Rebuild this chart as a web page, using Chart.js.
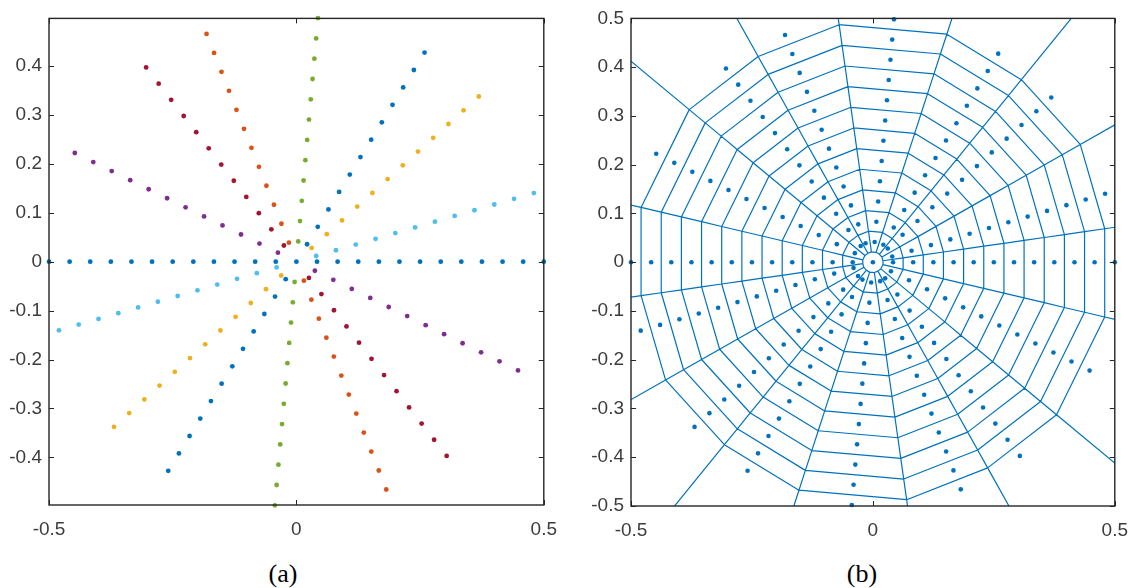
<!DOCTYPE html>
<html>
<head>
<meta charset="utf-8">
<script src="https://cdn.jsdelivr.net/npm/chart.js@4/dist/chart.umd.min.js"></script>
<style>
  body { margin: 0; background: #fff; }
  .wrap { position: absolute; top: 0; }
  .cap { position: absolute; top: 561px; height: 26px; line-height: 26px; width: 60px; text-align: center;
         font-family: "Liberation Serif", serif; font-size: 26px; color: #000; }
</style>
</head>
<body>
<div class="wrap" style="left:0px;width:570px;height:545px"><canvas id="chartA"></canvas></div>
<div class="wrap" style="left:580px;width:561px;height:546px"><canvas id="chartB"></canvas></div>
<div class="cap" style="left:253px">(a)</div>
<div class="cap" style="left:832px">(b)</div>
<script>
// lines through the origin, angle in degrees
const lineAngles = [0, 16.3, 42.5, 58.8, 85.0, 111.3, 127.4, 153.6];
// distance of the points from the origin along each line (both sides)
const stepRadii = [0.0417, 0.0833, 0.125, 0.1667, 0.2083, 0.25, 0.2917, 0.3333, 0.375, 0.4167, 0.4583, 0.5];
const lineColors = ['#0072BD', '#4DBEEE', '#EDB120', '#0072BD', '#77AC30', '#D95319', '#A2142F', '#7E2F8E'];

const xTicks = [-0.5, 0, 0.5];
const yTicksA = [-0.4, -0.3, -0.2, -0.1, 0, 0.1, 0.2, 0.3, 0.4];
const yTicksB = [-0.5, -0.4, -0.3, -0.2, -0.1, 0, 0.1, 0.2, 0.3, 0.4, 0.5];

// points of every line
const linePoints = lineAngles.map((deg, li) => {
  const a = deg * Math.PI / 180;
  const pts = li === 0 ? [{x: 0, y: 0}] : [];
  stepRadii.forEach(r => {
    pts.push({x: r * Math.cos(a), y: r * Math.sin(a)});
    pts.push({x: -r * Math.cos(a), y: -r * Math.sin(a)});
  });
  return pts;
});
const allPoints = linePoints.flat();

// voronoi cells by half-plane clipping, edges labelled with the neighbour site
function voronoiEdges(sites) {
  const out = [];
  sites.forEach((si, i) => {
    let pts = [[-3, -3], [3, -3], [3, 3], [-3, 3]], labs = [-1, -1, -1, -1];
    sites.forEach((sj, j) => {
      if (j === i) return;
      const nx = sj.x - si.x, ny = sj.y - si.y;
      const c = (sj.x * sj.x + sj.y * sj.y - si.x * si.x - si.y * si.y) / 2;
      const np = [], nl = [];
      for (let k = 0; k < pts.length; k++) {
        const p = pts[k], q = pts[(k + 1) % pts.length];
        const dp = nx * p[0] + ny * p[1] - c, dq = nx * q[0] + ny * q[1] - c;
        if (dp <= 0) { np.push(p); nl.push(labs[k]); }
        if ((dp <= 0) !== (dq <= 0)) {
          const t = dp / (dp - dq);
          np.push([p[0] + t * (q[0] - p[0]), p[1] + t * (q[1] - p[1])]);
          nl.push(dp <= 0 ? j : labs[k]);
        }
      }
      pts = np; labs = nl;
    });
    for (let k = 0; k < pts.length; k++) {
      if (labs[k] > i) {
        const p = pts[k], q = pts[(k + 1) % pts.length];
        out.push({x: p[0], y: p[1]}, {x: q[0], y: q[1]}, {x: null, y: null});
      }
    }
  });
  return out;
}

const axisColor = '#262626';
const boxTicks = {
  id: 'boxTicks',
  afterDraw(chart) {
    const {ctx, chartArea: a, scales: {x, y}} = chart;
    ctx.save();
    ctx.strokeStyle = axisColor;
    ctx.lineWidth = 1.4;
    ctx.strokeRect(a.left, a.top, a.right - a.left, a.bottom - a.top);
    ctx.lineWidth = 1;
    ctx.beginPath();
    x.ticks.forEach(t => {
      const px = Math.round(x.getPixelForValue(t.value)) + 0.5;
      ctx.moveTo(px, a.bottom); ctx.lineTo(px, a.bottom - 5);
      ctx.moveTo(px, a.top); ctx.lineTo(px, a.top + 5);
    });
    y.ticks.forEach(t => {
      const py = Math.round(y.getPixelForValue(t.value)) + 0.5;
      ctx.moveTo(a.left, py); ctx.lineTo(a.left + 5, py);
      ctx.moveTo(a.right, py); ctx.lineTo(a.right - 5, py);
    });
    ctx.stroke();
    ctx.restore();
  }
};

function options(yMin, yMax, yTicks, yWidth, right) {
  const tickFont = {family: '"Liberation Sans", Arial, sans-serif', size: 19};
  return {
    animation: false,
    responsive: true,
    maintainAspectRatio: false,
    layout: {padding: {top: 14, right: right, bottom: 0, left: 0}},
    plugins: {legend: {display: false}, tooltip: {enabled: false}},
    scales: {
      x: {
        type: 'linear', min: -0.5, max: 0.5,
        grid: {display: false, drawTicks: false}, border: {display: false},
        afterBuildTicks: s => { s.ticks = xTicks.map(v => ({value: v})); },
        afterFit: s => { s.height = 40; },
        ticks: {color: '#3c3c3c', font: tickFont, padding: 13, maxRotation: 0, callback: v => String(v)}
      },
      y: {
        type: 'linear', min: yMin, max: yMax,
        grid: {display: false, drawTicks: false}, border: {display: false},
        afterBuildTicks: s => { s.ticks = yTicks.map(v => ({value: v})); },
        afterFit: s => { s.width = yWidth; },
        ticks: {color: '#3c3c3c', font: tickFont, padding: 7, callback: v => String(v)}
      }
    }
  };
}

new Chart(document.getElementById('chartA'), {
  type: 'scatter',
  data: {
    datasets: linePoints.map((pts, i) => ({
      data: pts,
      backgroundColor: lineColors[i],
      pointRadius: 2.4,
      pointBorderWidth: 0,
      clip: false
    }))
  },
  options: options(-0.4975, 0.4975, yTicksA, 49, 25),
  plugins: [boxTicks]
});

new Chart(document.getElementById('chartB'), {
  type: 'scatter',
  data: {
    datasets: [
      {
        data: voronoiEdges(allPoints),
        showLine: true,
        spanGaps: false,
        borderColor: '#0072BD',
        borderWidth: 1.2,
        pointRadius: 0,
        clip: 0
      },
      {
        data: allPoints,
        backgroundColor: '#0072BD',
        pointRadius: 2.3,
        pointBorderWidth: 0,
        clip: false
      }
    ]
  },
  options: options(-0.5, 0.5, yTicksB, 51, 18),
  plugins: [boxTicks]
});
</script>
</body>
</html>
